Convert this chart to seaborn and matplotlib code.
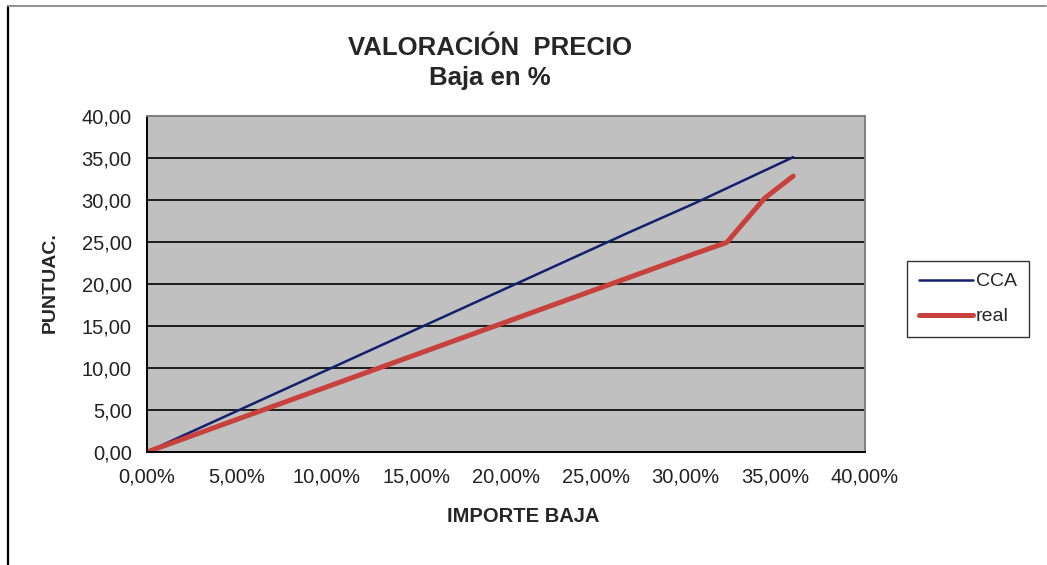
import numpy as np
import pandas as pd
import matplotlib
matplotlib.use("Agg")
import matplotlib.pyplot as plt
import seaborn as sns
from matplotlib.ticker import FuncFormatter
from matplotlib.lines import Line2D

# valores
baja_cca = [0.0, 0.267, 0.305, 0.323, 0.348, 0.360]
punt_cca = [0.0, 26.0, 29.6, 31.4, 33.9, 35.1]

baja_real = [0.0, 0.305, 0.323, 0.344, 0.350, 0.360]
punt_real = [0.0, 23.6, 24.95, 30.2, 31.2, 32.85]

x_ticks = [0.0, 0.05, 0.10, 0.15, 0.20, 0.25, 0.30, 0.35, 0.40]
y_ticks = [0, 5, 10, 15, 20, 25, 30, 35, 40]

sns.set_style("white")
plt.rcParams['font.family'] = ['Liberation Sans', 'DejaVu Sans']

df_cca = pd.DataFrame({"baja": baja_cca, "punt": punt_cca})
df_real = pd.DataFrame({"baja": baja_real, "punt": punt_real})

fig = plt.figure(figsize=(10.47, 5.65), dpi=100)
ax = fig.add_axes([0.1404, 0.2, 0.6858, 0.5947])
ax.set_facecolor("#C0C0C0")

sns.lineplot(data=df_cca, x="baja", y="punt", ax=ax, color="#14206E",
             linewidth=1.8, label="CCA", sort=False)
sns.lineplot(data=df_real, x="baja", y="punt", ax=ax, color="#C8413D",
             linewidth=3.6, label="real", sort=False)

ax.set_xlim(0, 0.40)
ax.set_ylim(0, 40)
ax.set_xticks(x_ticks)
ax.set_yticks(y_ticks)
ax.xaxis.set_major_formatter(FuncFormatter(lambda v, p: f"{v*100:.2f}%".replace('.', ',')))
ax.yaxis.set_major_formatter(FuncFormatter(lambda v, p: f"{v:.2f}".replace('.', ',')))
ax.tick_params(axis="both", direction="out", length=6, width=1.2, color="black",
               labelsize=14.5, labelcolor="#222222", pad=5)
ax.yaxis.grid(True, color="black", linewidth=1.2)
ax.xaxis.grid(False)
ax.set_axisbelow(True)

for s in ["left", "bottom"]:
    ax.spines[s].set_color("black")
    ax.spines[s].set_linewidth(1.4)
for s in ["top", "right"]:
    ax.spines[s].set_color("#808080")
    ax.spines[s].set_linewidth(1.4)

ax.set_xlabel("")
ax.set_ylabel("")
fig.text(0.50, 0.085, "IMPORTE BAJA", ha="center", va="center",
         fontsize=14.5, fontweight="bold")
fig.text(0.048, 0.5, "PUNTUAC.", ha="center", va="center", rotation=90,
         fontsize=14, fontweight="bold")

fig.text(0.468, 0.915, "VALORACIÓN  PRECIO", ha="center", va="center",
         fontsize=18.5, fontweight="bold")
fig.text(0.468, 0.862, "Baja en %", ha="center", va="center",
         fontsize=18.5, fontweight="bold")

leg = ax.legend(loc="center left", bbox_to_anchor=(1.045, 0.455), frameon=True,
                fancybox=False, edgecolor="black", fontsize=14, handlelength=2.8,
                handletextpad=0.15, labelspacing=0.9, borderpad=0.6)
leg.get_frame().set_linewidth(1.0)

# borde del area del grafico
fig.add_artist(Line2D([7.5 / 1047, 7.5 / 1047], [0, 1 - 6 / 565], color="black",
                      linewidth=1.6, transform=fig.transFigure))
fig.add_artist(Line2D([7.5 / 1047, 1046 / 1047], [1 - 6 / 565, 1 - 6 / 565],
                      color="#909090", linewidth=1.4, transform=fig.transFigure))

fig.savefig("out.png", dpi=100)
